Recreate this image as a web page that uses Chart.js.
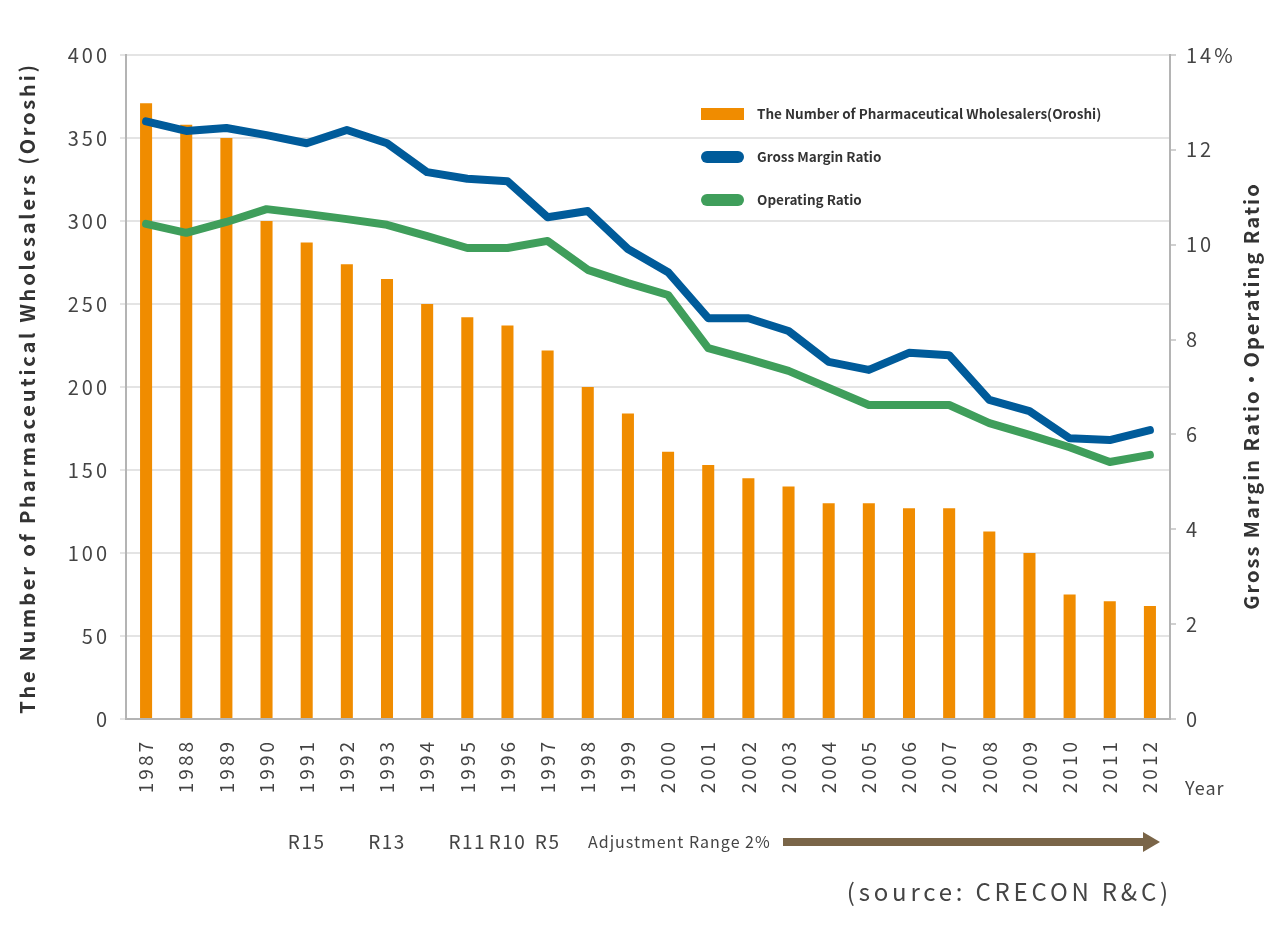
<!DOCTYPE html>
<html>
<head>
<meta charset="utf-8">
<script src="https://cdn.jsdelivr.net/npm/chart.js@4.4.1/dist/chart.umd.min.js"></script>
<style>
  html, body { margin: 0; padding: 0; background: #fff; }
  #wrap { position: relative; width: 1280px; height: 950px; }
</style>
</head>
<body>
<div id="wrap"><canvas id="chart" width="1280" height="950"></canvas></div>
<script>
const years = ['1987', '1988', '1989', '1990', '1991', '1992', '1993', '1994', '1995', '1996', '1997', '1998', '1999',
  '2000', '2001', '2002', '2003', '2004', '2005', '2006', '2007', '2008', '2009', '2010', '2011', '2012'];
const wholesalers = [371, 358, 350, 300, 287, 274, 265, 250, 242, 237, 222, 200, 184,
  161, 153, 145, 140, 130, 130, 127, 127, 113, 100, 75, 71, 68];
const grossMargin = [12.6, 12.4, 12.46, 12.31, 12.14, 12.42, 12.14, 11.53, 11.39, 11.34, 10.58, 10.71, 9.91,
  9.42, 8.45, 8.45, 8.18, 7.53, 7.36, 7.72, 7.67, 6.73, 6.49, 5.92, 5.88, 6.09];
const operating = [10.44, 10.25, 10.48, 10.75, 10.65, 10.54, 10.42, 10.18, 9.93, 9.93, 10.08, 9.47, 9.19,
  8.94, 7.82, 7.59, 7.34, 6.98, 6.62, 6.62, 6.62, 6.24, 5.99, 5.73, 5.42, 5.57];
const revisions = [['1991', 'R15'], ['1993', 'R13'], ['1995', 'R11'], ['1996', 'R10'], ['1997', 'R5']];

const FONT = '"Noto Sans CJK JP", "Noto Sans", sans-serif';
const ORANGE = '#f08c00';
const BLUE = '#005b9a';
const GREEN = '#3f9e5b';

const extras = {
  id: 'extras',
  beforeUpdate(chart) { chart.ctx.letterSpacing = '3px'; },
  afterDraw(chart) {
    const ctx = chart.ctx;
    const x = chart.scales.x;
    ctx.save();
    ctx.fillStyle = '#333';
    ctx.textBaseline = 'middle';

    // axis titles
    ctx.font = 'bold 20px ' + FONT;
    ctx.textAlign = 'center';
    ctx.letterSpacing = '2.8px';
    ctx.save();
    ctx.translate(27, 388);
    ctx.rotate(-Math.PI / 2);
    ctx.fillText('The Number of Pharmaceutical Wholesalers (Oroshi)', 0, 0);
    ctx.restore();
    ctx.letterSpacing = '2px';
    ctx.save();
    ctx.translate(1251, 396);
    ctx.rotate(-Math.PI / 2);
    ctx.fillText('Gross Margin Ratio・Operating Ratio', 0, 0);
    ctx.restore();

    // legend
    ctx.letterSpacing = '0px';
    ctx.font = 'bold 13.5px ' + FONT;
    ctx.textAlign = 'left';
    ctx.fillStyle = ORANGE;
    ctx.fillRect(701, 108, 43, 12);
    ctx.lineCap = 'round';
    ctx.lineWidth = 12;
    [[BLUE, 157], [GREEN, 200]].forEach(([c, y]) => {
      ctx.strokeStyle = c;
      ctx.beginPath();
      ctx.moveTo(707, y);
      ctx.lineTo(738, y);
      ctx.stroke();
    });
    ctx.fillStyle = '#333';
    ctx.fillText('The Number of Pharmaceutical Wholesalers(Oroshi)', 757, 114);
    ctx.fillText('Gross Margin Ratio', 757, 157);
    ctx.fillText('Operating Ratio', 757, 200);

    // year label
    ctx.letterSpacing = '1px';
    ctx.font = '18px ' + FONT;
    ctx.fillStyle = '#444';
    ctx.fillText('Year', 1185, 788);

    // revision notes
    ctx.font = '19px ' + FONT;
    ctx.letterSpacing = '1.5px';
    ctx.textAlign = 'center';
    revisions.forEach(([yr, t]) => ctx.fillText(t, x.getPixelForValue(years.indexOf(yr)), 842));
    ctx.font = '16px ' + FONT;
    ctx.letterSpacing = '1px';
    ctx.textAlign = 'left';
    ctx.fillText('Adjustment Range 2%', 588, 842);

    // arrow
    ctx.fillStyle = '#7a6548';
    ctx.fillRect(783, 838, 362, 8);
    ctx.beginPath();
    ctx.moveTo(1143, 832);
    ctx.lineTo(1160, 842);
    ctx.lineTo(1143, 852);
    ctx.closePath();
    ctx.fill();

    // source
    ctx.fillStyle = '#444';
    ctx.letterSpacing = '3.8px';
    ctx.font = '24px ' + FONT;
    ctx.textAlign = 'right';
    ctx.fillText('(source: CRECON R&C)', 1172, 892);
    ctx.restore();
  }
};

new Chart(document.getElementById('chart'), {
  type: 'bar',
  data: {
    labels: years,
    datasets: [
      { type: 'line', label: 'Gross Margin Ratio', data: grossMargin, yAxisID: 'y1', borderColor: BLUE,
        borderWidth: 8, pointRadius: 0, tension: 0, borderCapStyle: 'round', borderJoinStyle: 'round', order: 0 },
      { type: 'line', label: 'Operating Ratio', data: operating, yAxisID: 'y1', borderColor: GREEN,
        borderWidth: 8, pointRadius: 0, tension: 0, borderCapStyle: 'round', borderJoinStyle: 'round', order: 0 },
      { type: 'bar', label: 'The Number of Pharmaceutical Wholesalers(Oroshi)', data: wholesalers, yAxisID: 'y',
        backgroundColor: ORANGE, barPercentage: 0.3, categoryPercentage: 1, order: 1 }
    ]
  },
  options: {
    responsive: false,
    animation: false,
    layout: { padding: { top: 55, left: 0, right: 0, bottom: 0 } },
    plugins: { legend: { display: false }, tooltip: { enabled: false } },
    scales: {
      x: {
        grid: { display: false },
        border: { color: '#b4b4b4', width: 2 },
        ticks: { color: '#444', font: { family: FONT, size: 19 }, maxRotation: 90, minRotation: 90, padding: 12 },
        afterFit(s) { s.height = 231; }
      },
      y: {
        position: 'left',
        min: 0, max: 400,
        ticks: { stepSize: 50, color: '#444', font: { family: FONT, size: 20 }, padding: 10 },
        grid: { color: '#e4e4e4', lineWidth: 2, tickLength: 6 },
        border: { color: '#b4b4b4', width: 2 },
        afterFit(s) { s.width = 126; }
      },
      y1: {
        position: 'right',
        min: 0, max: 14,
        ticks: { stepSize: 2, color: '#444', font: { family: FONT, size: 20 }, padding: 10,
          callback: (v) => v === 14 ? '14%' : v },
        grid: { drawOnChartArea: false, color: '#d0d0d0', lineWidth: 2, tickLength: 6 },
        border: { color: '#b4b4b4', width: 2 },
        afterFit(s) { s.width = 110; }
      }
    }
  },
  plugins: [extras]
});
</script>
</body>
</html>
